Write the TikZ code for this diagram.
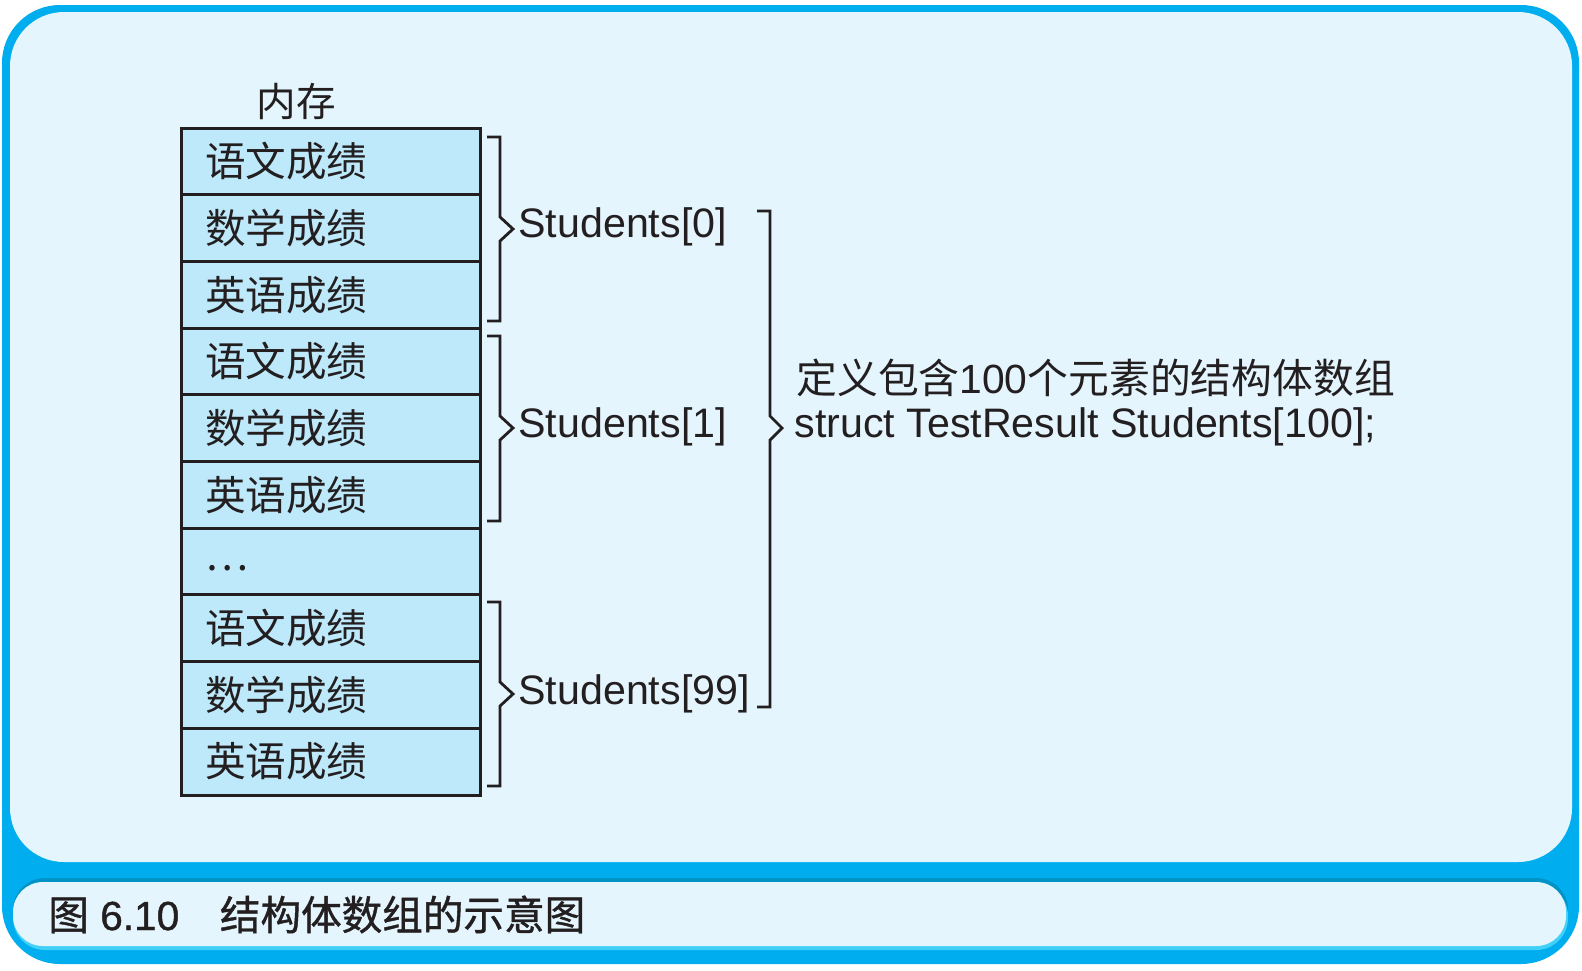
\documentclass[tikz,border=0pt]{standalone}
\usepackage{fontspec}
\setmainfont{Liberation Sans}
\newfontfamily\cjk{Noto Sans CJK SC}
\newfontfamily\cjkb[FakeBold=1]{Noto Sans CJK SC}
\newfontfamily\latb[FakeBold=1]{Liberation Sans}
\definecolor{outerblue}{HTML}{00AEEF}
\definecolor{lightbg}{HTML}{E4F5FD}
\definecolor{cellblue}{HTML}{BEE9FB}
\definecolor{lineclr}{HTML}{231F20}
\definecolor{captop}{HTML}{0093C6}
\definecolor{capbot}{HTML}{40D0F8}
\tikzset{
  cell/.style={draw=lineclr, line width=1.5pt, fill=cellblue,
    minimum width=149.5pt, minimum height=33.35pt, text width=125.5pt,
    inner xsep=12pt, inner ysep=0pt, align=left, text=lineclr,
    font={\fontsize{20.3pt}{24pt}\cjk}},
  lbl/.style={inner sep=0pt, text=lineclr, font={\fontsize{20.6pt}{24pt}\selectfont}},
  brace/.style={draw=lineclr, line width=1.4pt, line join=miter}
}
\begin{document}
\begin{tikzpicture}[x=0.5pt,y=-0.5pt]
\useasboundingbox (0,0) rectangle (1582,970);
% frame
\fill[outerblue, rounded corners=29pt] (2,5) rectangle (1579,964);
\fill[lightbg, rounded corners=27pt] (10,12) rectangle (1572,862);
% caption bar
\fill[captop, rounded corners=16pt] (13,878) rectangle (1568,944);
\fill[capbot, rounded corners=16pt] (13,884) rectangle (1568,950);
\fill[lightbg, rounded corners=15pt] (13,882) rectangle (1566,946);
\node[lbl, anchor=base west, font={\fontsize{20.3pt}{24pt}\selectfont}] (cap) at (48,930)
  {{\cjkb 图} {\latb 6.10}{\cjkb 　结构体数组的示意图}};
% memory title
\node[lbl, font={\fontsize{19.8pt}{24pt}\cjk}] (mem) at (296,101) {内存};
% table
\node[cell] (r1) at (330.5,161.35) {语文成绩};
\node[cell] (r2) at (330.5,228.05) {数学成绩};
\node[cell] (r3) at (330.5,294.75) {英语成绩};
\node[cell] (r4) at (330.5,361.45) {语文成绩};
\node[cell] (r5) at (330.5,428.15) {数学成绩};
\node[cell] (r6) at (330.5,494.85) {英语成绩};
\node[cell, text height=8.7pt, text depth=0pt] (r7) at (330.5,561.55) {…};
\node[cell] (r8) at (330.5,628.25) {语文成绩};
\node[cell] (r9) at (330.5,694.95) {数学成绩};
\node[cell] (r10) at (330.5,761.65) {英语成绩};
% braces
\draw[brace] (487,137) -- (500,137) -- (500,217) -- (513,229) -- (500,241) -- (500,321) -- (487,321);
\draw[brace] (487,336) -- (500,336) -- (500,416) -- (513,428) -- (500,440) -- (500,521) -- (487,521);
\draw[brace] (487,602) -- (500,602) -- (500,682) -- (513,694) -- (500,706) -- (500,786) -- (487,786);
\draw[brace] (757,211) -- (770,211) -- (770,416) -- (782,428) -- (770,440) -- (770,707) -- (757,707);
% labels
\node[lbl, anchor=base west] (s0) at (518,237) {Students[0]};
\node[lbl, anchor=base west] (s1) at (518,437) {Students[1]};
\node[lbl, anchor=base west] (s99) at (518,704) {Students[99]};
\node[lbl, anchor=base west, font={\fontsize{20.4pt}{24pt}\selectfont}] (def) at (796,393)
  {{\cjk 定义包含}100{\cjk 个元素的结构体数组}};
\node[lbl, anchor=base west] (decl) at (794,437) {struct TestResult Students[100];};
\end{tikzpicture}
\end{document}
